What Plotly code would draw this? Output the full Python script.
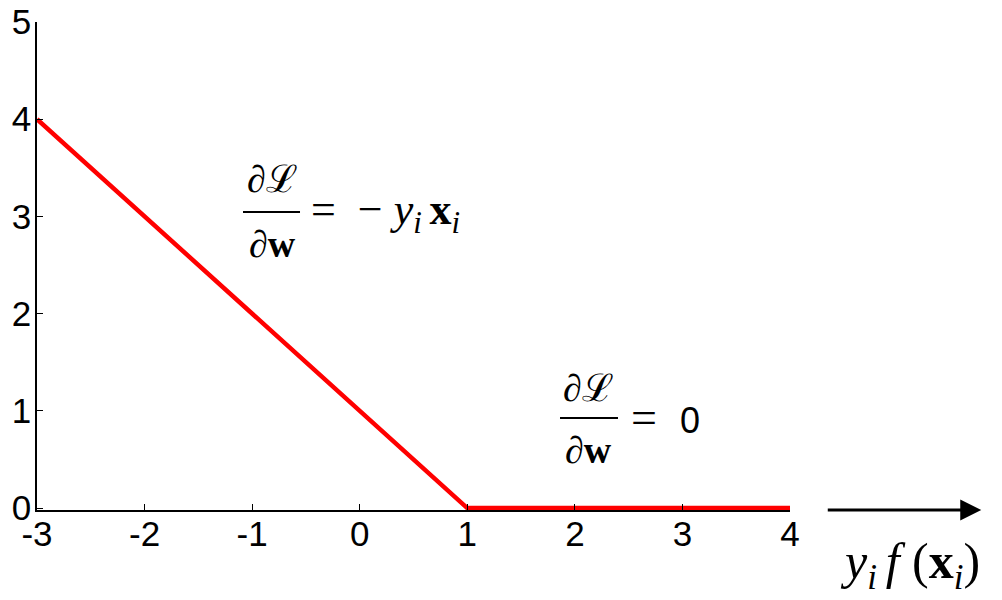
import plotly.graph_objects as go

# Data: hinge loss
x_vals = [-3, 1, 4]
y_vals = [4, 0, 0]

x_ticks = [-3, -2, -1, 0, 1, 2, 3, 4]
x_tick_text = ["-3", "-2", "-1", "0", "1", "2", "3", "4"]
y_ticks = [0, 1, 2, 3, 4, 5]
y_tick_text = ["0", "1", "2", "3", "4", "5"]

serif = "Liberation Serif, Times New Roman, serif"
sans = "Liberation Sans, Arial, sans-serif"

fig = go.Figure()
fig.add_trace(go.Scatter(x=x_vals, y=y_vals, mode="lines",
                         line=dict(color="#ff0000", width=4.5),
                         hoverinfo="skip", showlegend=False))

axis_common = dict(showline=True, linecolor="black", linewidth=1.5,
                   ticks="inside", ticklen=6, tickcolor="black", tickwidth=1,
                   showgrid=False, zeroline=False, mirror=False, automargin=False,
                   ticklabeloverflow="allow",
                   tickfont=dict(family=sans, size=35, color="black"))

fig.update_xaxes(range=[-3, 4], tickvals=x_ticks, ticktext=x_tick_text,
                 ticklabelstandoff=-8, **axis_common)
fig.update_yaxes(range=[-0.02, 5], tickvals=y_ticks, ticktext=y_tick_text,
                 ticklabelstandoff=-3, **axis_common)

eq_font = dict(family=serif, size=38, color="black")
ann = []
# Formula 1
ann.append(dict(x=-0.815, y=3.38, xref="x", yref="y", showarrow=False,
                text="∂ℒ", font=eq_font, xanchor="center", yanchor="middle"))
ann.append(dict(x=-0.815, y=2.72, xref="x", yref="y", showarrow=False,
                text="∂<b>w</b>", font=eq_font, xanchor="center", yanchor="middle"))
ann.append(dict(x=-0.47, y=3.04, xref="x", yref="y", showarrow=False,
                text="=&nbsp; −&nbsp;<i>y</i><sub><i>i</i> </sub><b>x</b><sub><i>i</i></sub>",
                font=dict(family=serif, size=44, color="black"),
                xanchor="left", yanchor="middle"))
# Formula 2
ann.append(dict(x=2.13, y=1.24, xref="x", yref="y", showarrow=False,
                text="∂ℒ", font=eq_font, xanchor="center", yanchor="middle"))
ann.append(dict(x=2.13, y=0.60, xref="x", yref="y", showarrow=False,
                text="∂<b>w</b>", font=eq_font, xanchor="center", yanchor="middle"))
ann.append(dict(x=2.50, y=0.93, xref="x", yref="y", showarrow=False,
                text="=&nbsp; <span style='font-family:Liberation Sans;font-size:36px'>0</span>",
                font=dict(family=serif, size=46, color="black"),
                xanchor="left", yanchor="middle"))
# Arrow
ann.append(dict(x=1.254, y=0.0, xref="paper", yref="paper", text="",
                showarrow=True, ax=-155, ay=0, arrowhead=2, arrowsize=1.4,
                arrowwidth=3, arrowcolor="black"))
# Axis label
ann.append(dict(x=1.160, y=-0.113, xref="paper", yref="paper", showarrow=False,
                text="<i>y</i><sub><i>i</i> </sub><i>f</i> (<b>x</b><sub><i>i</i></sub>)",
                font=dict(family=serif, size=50, color="black"),
                xanchor="center", yanchor="middle"))

shapes = [
    dict(type="line", xref="x", yref="y", x0=-1.085, x1=-0.555, y0=3.045, y1=3.045,
         line=dict(color="black", width=2)),
    dict(type="line", xref="x", yref="y", x0=1.862, x1=2.401, y0=0.926, y1=0.926,
         line=dict(color="black", width=2)),
]

# page body has an 8px margin; size the figure so the plot lands where the reference has it
fig.update_layout(width=994, height=592,
                  margin=dict(l=29, r=212, t=14, b=90),
                  plot_bgcolor="white", paper_bgcolor="white",
                  annotations=ann, shapes=shapes, showlegend=False)

fig.write_html("out.html")
